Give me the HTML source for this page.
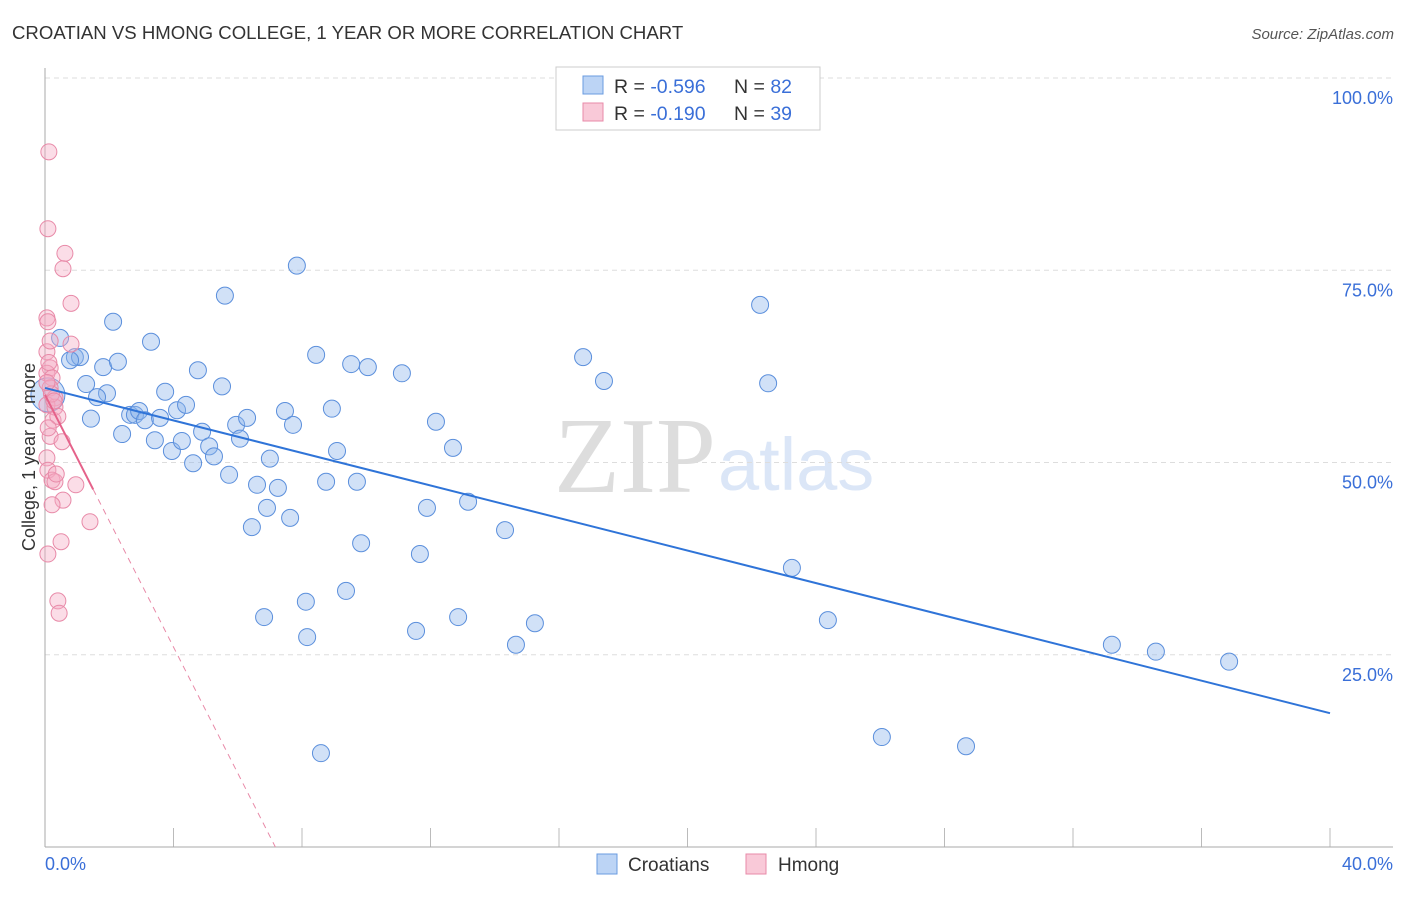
<!DOCTYPE html>
<html><head><meta charset="utf-8"><style>
body{margin:0;background:#fff;font-family:"Liberation Sans",sans-serif}
</style></head><body>
<svg id="c" width="1406" height="892" xmlns="http://www.w3.org/2000/svg">
<text x="12" y="39" font-size="18.6" fill="#333">CROATIAN VS HMONG COLLEGE, 1 YEAR OR MORE CORRELATION CHART</text>
<text x="1394" y="39" font-size="15" fill="#555" font-style="italic" text-anchor="end">Source: ZipAtlas.com</text>
<text x="716" y="492" font-size="108" fill="#ddd" text-anchor="end" font-family="Liberation Serif,serif">ZIP</text>
<text x="718" y="490" font-size="74" fill="#dbe6f7">atlas</text>
<g id="grid"></g><g id="pts"></g><g id="lines"></g>
<text transform="translate(35,457) rotate(-90)" font-size="18" fill="#333" text-anchor="middle">College, 1 year or more</text>
<text x="45" y="870" font-size="18" fill="#3a6fd8">0.0%</text>
<text x="1393" y="870" font-size="18" fill="#3a6fd8" text-anchor="end">40.0%</text>
<g>
<rect x="556" y="67" width="264" height="63" fill="#fff" stroke="#ccc"/>
<rect x="583" y="76" width="20" height="18" fill="#bcd4f5" stroke="#6a9be0"/>
<rect x="583" y="103" width="20" height="18" fill="#f9c9d8" stroke="#e88aa8"/>
<text x="614" y="93" font-size="19.5" fill="#333">R = <tspan fill="#3a6fd8">-0.596</tspan><tspan x="734">N = </tspan><tspan fill="#3a6fd8">82</tspan></text>
<text x="614" y="120" font-size="19.5" fill="#333">R = <tspan fill="#3a6fd8">-0.190</tspan><tspan x="734">N = </tspan><tspan fill="#3a6fd8">39</tspan></text>
</g>
<g>
<rect x="597" y="854" width="20" height="20" fill="#bcd4f5" stroke="#6a9be0"/>
<text x="628" y="871" font-size="19" fill="#333">Croatians</text>
<rect x="746" y="854" width="20" height="20" fill="#f9c9d8" stroke="#e88aa8"/>
<text x="778" y="871" font-size="19" fill="#333">Hmong</text>
</g>
</svg>
<script>
const yTicks=[100,75,50,25];
const yTickLabels=["100.0%","75.0%","50.0%","25.0%"];
const xTicks=[0,4,8,12,16,20,24,28,32,36,40];
const blueX=[0.47,2.12,3.30,0.93,1.09,0.78,1.81,2.27,1.28,1.93,1.62,3.74,4.76,5.51,5.60,7.84,8.44,9.53,10.05,11.11,16.75,17.40,22.26,22.51,1.43,2.65,2.80,2.93,3.11,3.58,4.11,4.39,2.40,3.42,3.95,4.26,4.89,5.11,5.26,4.61,5.73,5.95,6.07,6.29,6.60,7.00,7.25,7.47,7.72,6.91,7.63,6.44,8.75,8.93,9.09,9.71,12.17,12.70,11.89,13.17,14.32,9.84,11.67,23.25,6.82,8.12,9.37,8.16,11.55,12.86,14.66,15.25,24.37,33.21,34.58,36.86,26.05,28.67,8.59,0.09];
const blueY=[66.2,68.3,65.7,63.7,63.7,63.3,62.4,63.1,60.2,59.0,58.5,59.2,62.0,59.9,71.7,75.6,64.0,62.8,62.4,61.6,63.7,60.6,70.5,60.3,55.7,56.2,56.2,56.7,55.5,55.8,56.8,57.5,53.7,52.9,51.5,52.8,54.0,52.1,50.8,49.9,48.4,54.9,53.1,55.8,47.1,50.5,46.7,56.7,54.9,44.1,42.8,41.6,47.5,57.0,51.5,47.5,55.3,51.9,44.1,44.9,41.2,39.5,38.1,36.3,29.9,31.9,33.3,27.3,28.1,29.9,26.3,29.1,29.5,26.3,25.4,24.1,14.3,13.1,12.2,58.8];
const pinkX=[0.12,0.09,0.62,0.56,0.81,0.06,0.09,0.81,0.06,0.16,0.06,0.22,0.16,0.31,0.06,0.25,0.16,0.53,0.06,0.09,0.22,0.31,0.96,0.56,0.22,1.40,0.50,0.09,0.40,0.44,0.16,0.31,0.40,0.12,0.2,0.06,0.28,0.1,0.35];
const pinkY=[90.4,80.4,77.2,75.2,70.7,68.8,68.3,65.4,64.4,62.3,61.6,61.0,59.7,58.4,57.5,55.5,53.4,52.7,50.6,49.0,47.7,47.5,47.1,45.1,44.5,42.3,39.7,38.1,32.0,30.4,65.8,57.2,56.0,63.0,58.9,60.4,58.0,54.5,48.5];
const blueFit=[59.7,17.4];   // y at x=0, y at x=40
const pinkFit=[58.8,-8.2];   // intercept, slope per %
const X=v=>45+v*32.125, Y=v=>847-v*7.69;
const NS="http://www.w3.org/2000/svg";
function mk(t,a,p){const e=document.createElementNS(NS,t);for(const k in a)e.setAttribute(k,a[k]);p.appendChild(e);return e;}
const g=document.getElementById('grid');
yTicks.forEach((t,i)=>{
 const l=mk('line',{x1:45,x2:1393,y1:Y(t),y2:Y(t),stroke:'#ddd','stroke-dasharray':'5,4'},g);
 
 
 const tx=mk('text',{x:1393,y:Y(t)+26,'font-size':18,fill:'#3a6fd8','text-anchor':'end'},g);
 tx.textContent=yTickLabels[i];
 
 
});
xTicks.forEach(t=>{
 const l=mk('line',{x1:X(t),x2:X(t),y1:847,y2:t==0?847:828,stroke:'#bbb'},g);
 
 
});
mk('line',{x1:45,x2:45,y1:68,y2:847,stroke:'#aaa'},g);
mk('line',{x1:45,x2:1393,y1:847,y2:847,stroke:'#aaa'},g);
const p=document.getElementById('pts');
blueX.forEach((x,i)=>{
 const big=i==blueX.length-1;
 const c=mk('circle',{cx:X(x),cy:Y(blueY[i]),r:big?17:8.5,fill:'rgba(140,180,235,0.4)',stroke:'#5b8fdc','stroke-width':1},p);
 
 
});
pinkX.forEach((x,i)=>{
 const c=mk('circle',{cx:X(x),cy:Y(pinkY[i]),r:8,fill:'rgba(245,170,195,0.4)',stroke:'#e88aa8','stroke-width':1},p);
 
 
});
const L=document.getElementById('lines');
const bl=mk('line',{x1:X(0),y1:Y(blueFit[0]),x2:X(40),y2:Y(blueFit[1]),stroke:'#2f74d8','stroke-width':2},L);


const pf=x=>pinkFit[0]+pinkFit[1]*x;
const ps=mk('line',{x1:X(0),y1:Y(pf(0)),x2:X(1.5),y2:Y(pf(1.5)),stroke:'#e5628a','stroke-width':2},L);


const xe=pinkFit[0]/-pinkFit[1];
const pd=mk('line',{x1:X(1.5),y1:Y(pf(1.5)),x2:X(xe),y2:Y(0),stroke:'#e88aa8','stroke-width':1,'stroke-dasharray':'6,5'},L);


</script>
</body></html>
